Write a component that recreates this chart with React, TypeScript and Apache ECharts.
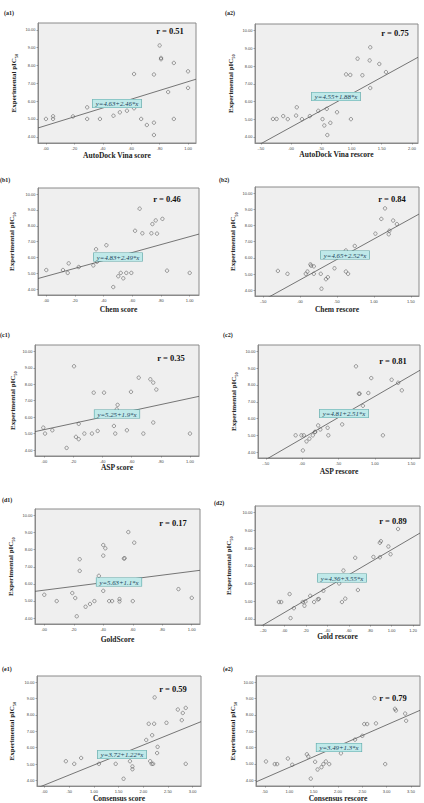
import React, { useEffect, useRef } from 'react';
import * as echarts from 'echarts';

const panelIds = ['(a1)', '(a2)', '(b1)', '(b2)', '(c1)', '(c2)', '(d1)', '(d2)', '(e1)', '(e2)'];
const xTitles = [
  'AutoDock Vina score', 'AutoDock Vina rescore', 'Chem score', 'Chem rescore',
  'ASP score', 'ASP rescore', 'GoldScore', 'Gold rescore', 'Consensus score', 'Consensus rescore',
];
const rValues = ['0.51', '0.75', '0.46', '0.84', '0.35', '0.81', '0.17', '0.89', '0.59', '0.79'];
const intercepts = ['4.63', '4.55', '4.83', '4.65', '5.25', '4.81', '5.63', '4.36', '3.72', '3.49'];
const slopes = ['2.46', '1.88', '2.49', '2.52', '1.9', '2.51', '1.1', '3.55', '1.22', '1.3'];

const yTicks = [4, 5, 6, 7, 8, 9, 10];
const xTicksScore = [0, 0.2, 0.4, 0.6, 0.8, 1.0];
const xTicksRescoreA = [-0.5, 0, 0.5, 1.0, 1.5, 2.0];
const xTicksRescoreBC = [-0.5, 0, 0.5, 1.0, 1.5];
const xTicksGoldRe = [-0.2, 0, 0.2, 0.4, 0.6, 0.8, 1.0, 1.2];
const xTicksCons = [0, 0.5, 1.0, 1.5, 2.0, 2.5, 3.0];
const xTicksConsRe = [0.5, 1.0, 1.5, 2.0, 2.5, 3.0, 3.5];
const xTickSets = [xTicksScore, xTicksRescoreA, xTicksScore, xTicksRescoreBC, xTicksScore, xTicksRescoreBC, xTicksScore, xTicksGoldRe, xTicksCons, xTicksConsRe];

const a1Points = [[0, 5.0], [0.05, 5.15], [0.05, 5.0], [0.19, 5.14], [0.29, 5.65], [0.29, 5.0], [0.38, 5.0], [0.475, 5.18], [0.52, 5.37], [0.57, 5.46], [0.62, 5.6], [0.62, 7.52], [0.67, 5.0], [0.71, 4.66], [0.76, 7.49], [0.76, 4.79], [0.76, 4.1], [0.8, 9.12], [0.81, 8.42], [0.81, 8.35], [0.86, 6.51], [0.9, 8.14], [0.9, 5.0], [1.0, 7.67], [1.0, 6.74]];
const a2Points = [[-0.3, 5.01], [-0.24, 5.01], [-0.13, 5.17], [-0.055, 5.0], [0.094, 5.67], [0.083, 5.2], [0.18, 5.0], [0.31, 5.17], [0.45, 5.47], [0.52, 5.0], [0.55, 4.64], [0.59, 5.58], [0.6, 4.1], [0.65, 4.79], [0.76, 5.39], [0.91, 7.53], [0.98, 7.5], [0.99, 5.0], [1.1, 8.42], [1.18, 7.48], [1.31, 9.06], [1.3, 8.32], [1.31, 6.76], [1.46, 8.12], [1.57, 7.66]];
const b1Points = [[0, 5.22], [0.116, 5.22], [0.149, 5.04], [0.156, 5.64], [0.226, 5.41], [0.328, 5.51], [0.347, 6.53], [0.353, 5.74], [0.419, 6.78], [0.467, 4.15], [0.502, 4.83], [0.519, 5.04], [0.537, 4.7], [0.558, 5.04], [0.593, 5.04], [0.619, 7.69], [0.651, 9.08], [0.67, 7.53], [0.733, 7.53], [0.74, 8.11], [0.763, 8.34], [0.772, 7.51], [0.81, 8.44], [0.842, 5.18], [1.0, 5.04]];
const b2Points = [[-0.3, 5.2], [-0.17, 5.02], [0.077, 5.02], [0.1, 5.16], [0.14, 5.6], [0.15, 5.52], [0.186, 5.48], [0.186, 5.02], [0.28, 5.02], [0.29, 4.1], [0.35, 4.69], [0.376, 4.81], [0.466, 5.36], [0.62, 6.46], [0.62, 5.16], [0.65, 5.02], [0.74, 6.74], [1.02, 7.5], [1.1, 8.41], [1.15, 9.06], [1.2, 7.46], [1.21, 7.68], [1.26, 8.31], [1.31, 8.09]];
const c1Points = [[-0.007, 5.37], [0.005, 5.01], [0.055, 5.21], [0.153, 4.14], [0.204, 9.09], [0.217, 4.81], [0.236, 4.67], [0.236, 5.6], [0.275, 5.01], [0.327, 5.01], [0.339, 7.49], [0.366, 5.17], [0.41, 7.49], [0.478, 5.47], [0.487, 5.01], [0.497, 6.48], [0.503, 6.75], [0.567, 5.21], [0.595, 7.54], [0.648, 8.4], [0.68, 5.01], [0.728, 8.3], [0.748, 8.1], [0.748, 5.68], [0.769, 7.68], [1.0, 5.01]];
const c2Points = [[-0.09, 5.0], [-0.01, 5.0], [0.023, 5.0], [0.06, 4.64], [0.01, 4.1], [0.1, 4.8], [0.146, 5.0], [0.174, 5.19], [0.18, 5.21], [0.22, 5.59], [0.25, 5.35], [0.35, 5.45], [0.36, 5.0], [0.55, 5.65], [0.74, 9.11], [0.78, 7.48], [0.79, 7.48], [0.835, 6.76], [0.91, 7.52], [0.95, 8.41], [1.11, 5.0], [1.23, 8.31], [1.32, 8.13], [1.37, 7.68]];
const d1Points = [[0, 5.36], [0.084, 4.99], [0.19, 5.46], [0.21, 5.17], [0.22, 4.1], [0.24, 7.44], [0.24, 6.76], [0.28, 4.66], [0.31, 4.82], [0.34, 4.99], [0.37, 6.47], [0.4, 8.27], [0.4, 7.65], [0.4, 5.59], [0.414, 8.08], [0.44, 4.99], [0.46, 4.99], [0.51, 5.11], [0.51, 4.97], [0.54, 7.48], [0.545, 7.5], [0.57, 9.03], [0.6, 4.99], [0.61, 8.41], [0.91, 5.69], [1.0, 5.18]];
const d2Points = [[-0.053, 4.95], [-0.031, 4.95], [0.047, 5.4], [0.056, 4.04], [0.087, 4.6], [0.17, 4.95], [0.195, 4.98], [0.186, 4.74], [0.24, 5.3], [0.276, 4.95], [0.31, 5.1], [0.32, 5.12], [0.363, 5.59], [0.51, 6.0], [0.536, 4.95], [0.567, 5.14], [0.55, 6.73], [0.66, 7.45], [0.685, 5.63], [0.83, 7.5], [0.89, 7.48], [0.89, 8.3], [0.9, 8.39], [0.97, 8.09], [0.99, 7.65], [1.06, 9.08]];
const e1Points = [[0.43, 5.17], [0.6, 5.01], [0.74, 5.37], [1.1, 5.01], [1.44, 5.01], [1.6, 4.1], [1.73, 5.17], [1.78, 4.85], [1.78, 4.68], [2.06, 6.47], [2.11, 7.46], [2.14, 5.17], [2.17, 5.01], [2.2, 5.01], [2.18, 6.76], [2.22, 7.46], [2.23, 9.07], [2.28, 5.67], [2.29, 6.05], [2.47, 7.52], [2.7, 8.33], [2.78, 7.68], [2.8, 8.12], [2.86, 8.43], [2.86, 5.01]];
const e2Points = [[0.52, 5.15], [0.7, 4.99], [0.75, 4.99], [0.97, 5.33], [1.06, 4.95], [1.36, 5.59], [1.39, 5.45], [1.44, 4.1], [1.53, 5.13], [1.58, 4.66], [1.66, 4.8], [1.7, 4.99], [1.75, 5.15], [1.82, 4.99], [2.06, 5.65], [2.35, 6.49], [2.5, 6.72], [2.54, 7.44], [2.6, 7.44], [2.78, 7.48], [2.75, 9.03], [2.97, 4.99], [3.17, 8.37], [3.19, 8.27], [3.38, 8.08], [3.4, 7.64]];
const allPoints = [a1Points, a2Points, b1Points, b2Points, c1Points, c2Points, d1Points, d2Points, e1Points, e2Points];

// layout (pixel positions) per panel
const layout = [
  { left: 38, top: 23, w: 158, h: 120, xMin: -0.056, xMax: 1.056, yGap: 19, xGap: 8, lab: [4, 13], r: [170, 31], eq: [117, 103.5] },
  { left: 255, top: 24, w: 163, h: 119, xMin: -0.597, xMax: 2.1, yGap: 19, xGap: 6, lab: [225, 13], r: [395, 33], eq: [336, 96.5] },
  { left: 38, top: 188, w: 161, h: 107, xMin: -0.058, xMax: 1.065, yGap: 21, xGap: 10, lab: [0, 180], r: [167, 199], eq: [118, 257] },
  { left: 255, top: 187, w: 164, h: 109, xMin: -0.61, xMax: 1.61, yGap: 15, xGap: 9, lab: [219, 180], r: [392, 199], eq: [345, 255] },
  { left: 35, top: 345, w: 164, h: 111, xMin: -0.064, xMax: 1.062, yGap: 17, xGap: 7, lab: [0, 335], r: [171, 358], eq: [117, 414] },
  { left: 258, top: 345, w: 162, h: 113, xMin: -0.607, xMax: 1.62, yGap: 19, xGap: 9, lab: [223, 335], r: [393, 361], eq: [344, 413.5] },
  { left: 35, top: 509, w: 165, h: 115, xMin: -0.063, xMax: 1.056, yGap: 19, xGap: 11, lab: [2, 500], r: [173, 523], eq: [119, 582] },
  { left: 255, top: 506, w: 165, h: 119, xMin: -0.276, xMax: 1.265, yGap: 21, xGap: 7, lab: [214, 503], r: [393, 521], eq: [342, 578] },
  { left: 37, top: 676, w: 164, h: 112, xMin: -0.155, xMax: 3.17, yGap: 20, xGap: 7, lab: [2, 669], r: [173, 689], eq: [122, 754.5] },
  { left: 256, top: 676, w: 164, h: 112, xMin: 0.315, xMax: 3.685, yGap: 18, xGap: 8, lab: [223, 669], r: [393, 698], eq: [339, 747.5] },
];

const Y_MIN = 3.65;
const Y_MAX = 10.38;
const SERIF = '"Liberation Serif", "DejaVu Serif", serif';

const fmtX = (v: number) => {
  const s = Math.abs(v).toFixed(2).replace(/^0/, '');
  return (v < 0 ? '-' : '') + s;
};

export default function App() {
  const ref = useRef<HTMLDivElement>(null);
  useEffect(() => {
    if (!ref.current) return;
    const chart = echarts.init(ref.current, undefined, { renderer: 'svg' });
    const grid: any[] = [];
    const xAxis: any[] = [];
    const yAxis: any[] = [];
    const series: any[] = [];
    const graphic: any[] = [];
    layout.forEach((p, i) => {
      grid.push({
        left: p.left, top: p.top, width: p.w, height: p.h,
        show: true, backgroundColor: '#efefef', borderColor: '#8a8a8a', borderWidth: 1,
      });
      xAxis.push({
        type: 'value', gridIndex: i, min: p.xMin, max: p.xMax,
        name: xTitles[i], nameLocation: 'middle', nameGap: p.xGap,
        nameTextStyle: { fontFamily: SERIF, fontWeight: 'bold', fontSize: 7.5, color: '#222' },
        axisLine: { show: true, onZero: false, lineStyle: { color: '#8a8a8a', width: 1 } },
        axisTick: { show: true, length: 1.5, customValues: xTickSets[i], lineStyle: { color: '#666', width: 0.6 } },
        axisLabel: { show: true, customValues: xTickSets[i], formatter: fmtX, fontSize: 4, margin: 3, color: '#444', fontFamily: 'Liberation Sans' },
        splitLine: { show: false },
      });
      yAxis.push({
        type: 'value', gridIndex: i, min: Y_MIN, max: Y_MAX,
        name: 'Experimental pIC{sub|50}', nameLocation: 'middle', nameGap: p.yGap,
        nameTextStyle: {
          fontFamily: SERIF, fontWeight: 'bold', fontSize: 7, color: '#222',
          rich: { sub: { fontFamily: SERIF, fontWeight: 'bold', fontSize: 4.5, color: '#222', verticalAlign: 'bottom', lineHeight: 11 } },
        },
        axisLine: { show: true, onZero: false, lineStyle: { color: '#8a8a8a', width: 1 } },
        axisTick: { show: true, length: 1.5, customValues: yTicks, lineStyle: { color: '#666', width: 0.6 } },
        axisLabel: { show: true, customValues: yTicks, formatter: (v: number) => v.toFixed(2), fontSize: 4, margin: 2.5, color: '#444', fontFamily: 'Liberation Sans' },
        splitLine: { show: false },
      });
      const a = parseFloat(intercepts[i]);
      const b = parseFloat(slopes[i]);
      series.push({
        type: 'line', xAxisIndex: i, yAxisIndex: i, clip: true, symbol: 'none',
        data: [[p.xMin, a + b * p.xMin], [p.xMax, a + b * p.xMax]],
        lineStyle: { color: '#555', width: 0.8 }, silent: true,
      });
      series.push({
        type: 'scatter', xAxisIndex: i, yAxisIndex: i, symbol: 'circle', symbolSize: 3.4,
        data: allPoints[i],
        itemStyle: { color: 'rgba(255,255,255,0)', borderColor: '#555', borderWidth: 0.7 },
      });
      graphic.push({
        type: 'text', x: p.lab[0], y: p.lab[1],
        style: { text: panelIds[i], fontFamily: SERIF, fontWeight: 'bold', fontSize: 6, fill: '#222', align: 'left', verticalAlign: 'middle' },
      });
      graphic.push({
        type: 'text', x: p.r[0], y: p.r[1],
        style: { text: 'r = ' + rValues[i], fontFamily: SERIF, fontWeight: 'bold', fontSize: 8.5, fill: '#111', align: 'center', verticalAlign: 'middle' },
      });
      graphic.push({
        type: 'text', x: p.eq[0], y: p.eq[1], z: 100,
        style: {
          text: 'y=' + intercepts[i] + '+' + slopes[i] + '*x', fontFamily: SERIF, fontStyle: 'italic', fontSize: 6.8,
          fill: '#1d3f5a', align: 'center', verticalAlign: 'middle',
          backgroundColor: '#bfe9e9', borderColor: '#5aa6a6', borderWidth: 0.6, padding: [0.5, 3],
        },
      });
    });
    chart.setOption({
      animation: false,
      backgroundColor: '#ffffff',
      grid, xAxis, yAxis, series, graphic,
    });
    return () => chart.dispose();
  }, []);
  return <div ref={ref} style={{ position: 'fixed', left: 0, top: 0, width: 424, height: 803 }} />;
}
